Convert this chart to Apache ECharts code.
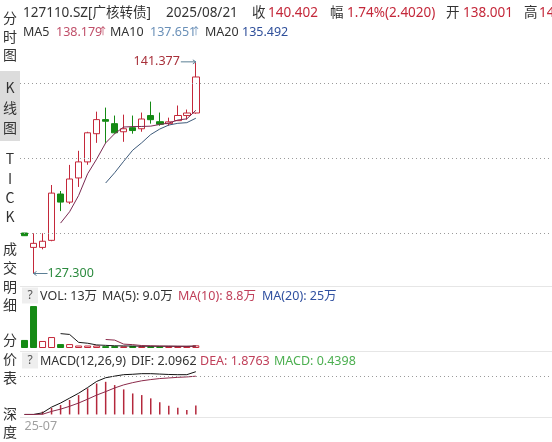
<!DOCTYPE html>
<html>
<head>
<meta charset="utf-8">
<script src="https://cdn.jsdelivr.net/npm/echarts@6/dist/echarts.min.js"></script>
<style>
html,body{margin:0;padding:0;background:#fff;}
#chart{width:552px;height:442px;}
</style>
</head>
<body>
<div id="chart"></div>
<script>
// 127110.SZ 广核转债 daily K-line since listing
const bondCode = '127110.SZ';
const bondName = '广核转债';
const dates = ['2025-07-25','2025-07-28','2025-07-29','2025-07-30','2025-07-31','2025-08-01','2025-08-04','2025-08-05','2025-08-06','2025-08-07','2025-08-08','2025-08-11','2025-08-12','2025-08-13','2025-08-14','2025-08-15','2025-08-18','2025-08-19','2025-08-20','2025-08-21'];
const opens  = [130.00,129.04,129.04,129.51,132.60,132.06,133.67,134.74,136.62,137.56,137.29,136.75,137.02,136.95,137.83,137.42,137.29,137.49,137.83,138.001];
const closes = [129.82,129.31,129.45,132.66,132.06,133.60,134.74,136.68,137.56,137.45,136.68,136.95,136.83,137.60,137.555,137.25,137.41,137.833,138.000,140.402];
const lows   = [129.80,127.30,128.91,129.45,131.46,131.93,133.07,134.55,136.01,136.01,136.62,136.08,136.62,136.75,137.29,137.15,137.15,137.49,137.56,137.95];
const highs  = [130.00,129.98,129.98,133.20,132.80,134.54,135.48,136.75,138.09,138.36,137.83,137.89,137.83,138.03,138.76,138.03,137.69,138.50,138.23,141.377];
// volume in 万张
const volumes = [39,203,34,53,19,19,12,12,12,9,9,8,10,8,8,8,8,8,8,13];
// MACD(12,26,9)
const difValues  = [0,0,0.08,0.36,0.56,0.80,1.04,1.32,1.62,1.80,1.88,1.95,1.97,2.00,2.00,1.98,1.96,1.95,1.95,2.0962];
const deaValues  = [0,0,0.01,0.15,0.26,0.40,0.56,0.75,0.95,1.12,1.30,1.45,1.56,1.65,1.71,1.76,1.79,1.82,1.84,1.8763];
const macdValues = [0,0,0.14,0.32,0.46,0.71,0.95,1.28,1.52,1.60,1.44,1.23,1.03,0.95,0.79,0.60,0.43,0.33,0.22,0.4398];
// axis tick labels and reference levels
const monthLabels = {'2025-07-25': '25-07'};
const priceLevels = [130, 135, 140];
const macdLevels = [1.87];
const sideTabs = [['分','时','图'], ['K','线','图'], ['T','I','C','K'], ['成','交','明','细'], ['分','价','表'], ['深','度']];

const FONT = '"Noto Sans", "Noto Sans CJK SC", sans-serif';
const FS = '12.5px ';
const HEAD_FS = '13.5px ';
const RED = '#c4283a';
const GREEN = '#148a14';
const TEXT = '#333';
const SLOTS = 59;

function movingAverage(arr, n) {
  return arr.map((_, i) => {
    if (i < n - 1) return '-';
    let s = 0;
    for (let k = i - n + 1; k <= i; k++) s += arr[k];
    return s / n;
  });
}

const ma5 = movingAverage(closes, 5);
const ma10 = movingAverage(closes, 10);
const ma20 = movingAverage(closes, 20);
const vma5 = movingAverage(volumes, 5);
const vma10 = movingAverage(volumes, 10);
const vma20 = movingAverage(volumes, 20);

const last = dates.length - 1;
const candleData = dates.map((d, i) => [opens[i], closes[i], lows[i], highs[i]]);
const volData = volumes.map((v, i) => {
  const ref = i === 0 ? opens[0] : closes[i - 1];
  const up = closes[i] >= ref;
  return {
    value: v,
    itemStyle: up ? { color: '#fff', borderColor: RED, borderWidth: 1 } : { color: GREEN, borderColor: GREEN, borderWidth: 1 }
  };
});

function fmtVol(v) { return (v >= 10 ? Math.round(v) : v.toFixed(1)) + '万'; }

const chart = echarts.init(document.getElementById('chart'), null, { renderer: 'canvas' });

const xAxisBase = {
  type: 'category', data: dates, boundaryGap: true, max: SLOTS - 1,
  axisLine: { show: false }, axisTick: { show: false }, splitLine: { show: false },
  axisLabel: { show: false }
};

chart.setOption({
  animation: false,
  backgroundColor: '#fff',
  grid: [
    { left: 20, right: 0, top: 38, height: 247.5 },
    { left: 20, right: 0, top: 298.4, height: 49.6 },
    { left: 20, right: 0, top: 365.5, height: 51 }
  ],
  xAxis: [
    Object.assign({}, xAxisBase, { gridIndex: 0 }),
    Object.assign({}, xAxisBase, { gridIndex: 1 }),
    Object.assign({}, xAxisBase, {
      gridIndex: 2,
      axisLabel: {
        show: true, interval: 0, align: 'left', margin: 4,
        color: '#a0a0a0', fontFamily: FONT, fontSize: 12.5,
        formatter: v => monthLabels[v] || ''
      }
    })
  ],
  yAxis: [
    { gridIndex: 0, type: 'value', min: 126.5, max: 143, show: false, splitLine: { show: false } },
    { gridIndex: 1, type: 'value', min: 0, max: 240, show: false, splitLine: { show: false } },
    { gridIndex: 2, type: 'value', min: -0.1, max: 2.4, show: false, splitLine: { show: false } }
  ],
  series: [
    {
      name: 'K', type: 'candlestick', xAxisIndex: 0, yAxisIndex: 0,
      data: candleData, barWidth: 7,
      itemStyle: { color: '#fff', color0: GREEN, borderColor: RED, borderColor0: GREEN, borderWidth: 1 },
      markLine: {
        silent: true, symbol: ['none', 'none'], label: { show: false },
        lineStyle: { type: [1, 3], color: '#9a9a9a', width: 1 },
        data: priceLevels.map(v => ({ yAxis: v }))
      }
    },
    { name: 'MA5', type: 'line', xAxisIndex: 0, yAxisIndex: 0, data: ma5, showSymbol: false, lineStyle: { color: '#7a2a52', width: 1 } },
    { name: 'MA10', type: 'line', xAxisIndex: 0, yAxisIndex: 0, data: ma10, showSymbol: false, lineStyle: { color: '#3d5a7a', width: 1 } },
    { name: 'MA20', type: 'line', xAxisIndex: 0, yAxisIndex: 0, data: ma20, showSymbol: false, lineStyle: { color: '#2f4f9a', width: 1 } },
    { name: 'VOL', type: 'bar', xAxisIndex: 1, yAxisIndex: 1, data: volData, barWidth: 7 },
    { name: 'VMA5', type: 'line', xAxisIndex: 1, yAxisIndex: 1, data: vma5, showSymbol: false, lineStyle: { color: '#1a1a1a', width: 1 } },
    { name: 'VMA10', type: 'line', xAxisIndex: 1, yAxisIndex: 1, data: vma10, showSymbol: false, lineStyle: { color: '#8b2a4a', width: 1 } },
    { name: 'VMA20', type: 'line', xAxisIndex: 1, yAxisIndex: 1, data: vma20, showSymbol: false, lineStyle: { color: '#2f4f9a', width: 1 } },
    { name: 'MACD', type: 'bar', xAxisIndex: 2, yAxisIndex: 2, data: macdValues, barWidth: 1.5, itemStyle: { color: '#b4283c' } },
    {
      name: 'DIF', type: 'line', xAxisIndex: 2, yAxisIndex: 2, data: difValues, showSymbol: false, lineStyle: { color: '#111', width: 1 },
      markLine: {
        silent: true, symbol: ['none', 'none'], label: { show: false },
        lineStyle: { type: [1, 3], color: '#9a9a9a', width: 1 },
        data: macdLevels.map(v => ({ yAxis: v }))
      }
    },
    { name: 'DEA', type: 'line', xAxisIndex: 2, yAxisIndex: 2, data: deaValues, showSymbol: false, lineStyle: { color: '#8b2a4a', width: 1 } }
  ]
});

// ---- overlay texts: header, indicator rows, sidebar, extreme markers ----
function txt(x, y, text, color, opts) {
  return Object.assign({
    type: 'text', x: x, y: y, silent: true, z: 10,
    style: Object.assign({ text: text, fill: color || TEXT, font: FS + FONT, verticalAlign: 'middle', align: 'left' }, (opts && opts.style) || {})
  }, (opts && opts.el) || {});
}
function head(x, text, color) {
  return txt(x, 13, text, color, { style: { font: HEAD_FS + FONT } });
}

const g = [];
const close = closes[last];
const prev = closes[last - 1];
const chg = close - prev;

// header row
g.push(head(23, bondCode + '[' + bondName + ']'));
g.push(head(166, dates[last].replace(/-/g, '/')));
g.push(head(252, '收'));
g.push(head(268, close.toFixed(3), RED));
g.push(head(330, '幅'));
g.push(head(347, (chg / prev * 100).toFixed(2) + '%(' + chg.toFixed(4) + ')', RED));
g.push(head(446, '开'));
g.push(head(463, opens[last].toFixed(3), RED));
g.push(head(524, '高'));
g.push(head(539, highs[last].toFixed(3), RED));

// MA row
g.push(txt(23, 32, 'MA5'));
g.push(txt(56, 32, ma5[last].toFixed(3), '#c0506a'));
g.push(txt(98, 32, '↑', '#c0506a', { style: { font: '10px ' + FONT } }));
g.push(txt(110, 32, 'MA10'));
g.push(txt(150, 32, ma10[last].toFixed(3), '#6a90b8'));
g.push(txt(191, 32, '↑', '#6a90b8', { style: { font: '10px ' + FONT } }));
g.push(txt(205, 32, 'MA20'));
g.push(txt(242, 32, ma20[last].toFixed(3), '#2f4f9a'));

// panel separators
[286.5, 351.5, 417.5].forEach(y => g.push({
  type: 'line', silent: true, z: 1,
  shape: { x1: 20, y1: y, x2: 552, y2: y },
  style: { stroke: '#e6e6e6', lineWidth: 1 }
}));

// volume row
g.push({ type: 'rect', silent: true, z: 5, shape: { x: 22, y: 287.5, width: 16, height: 16 }, style: { fill: '#eeeeee' } });
g.push(txt(30, 296, '?', '#555', { style: { align: 'center', font: '12px ' + FONT } }));
g.push(txt(40, 296, 'VOL: ' + fmtVol(volumes[last])));
g.push(txt(102, 296, 'MA(5): ' + fmtVol(vma5[last])));
g.push(txt(178, 296, 'MA(10): ' + fmtVol(vma10[last]), '#c0405a'));
g.push(txt(262, 296, 'MA(20): ' + fmtVol(vma20[last]), '#3050a0'));

// MACD row
g.push({ type: 'rect', silent: true, z: 5, shape: { x: 22, y: 352.5, width: 16, height: 16 }, style: { fill: '#eeeeee' } });
g.push(txt(30, 361, '?', '#555', { style: { align: 'center', font: '12px ' + FONT } }));
g.push(txt(40, 361, 'MACD(12,26,9)'));
g.push(txt(131, 361, 'DIF: ' + difValues[last].toFixed(4)));
g.push(txt(200, 361, 'DEA: ' + deaValues[last].toFixed(4), '#c0405a'));
g.push(txt(274, 361, 'MACD: ' + macdValues[last].toFixed(4), '#4caf50'));

// sidebar tabs
g.push({ type: 'rect', silent: true, z: 2, shape: { x: 0, y: 71, width: 20, height: 70 }, style: { fill: '#dcdcdc' } });
const tabTops = [18, 88, 159, 249, 340, 414];
const tabSteps = [18.5, 20, 19.3, 18.7, 19, 18];
sideTabs.forEach((chars, t) => {
  chars.forEach((c, k) => {
    g.push(txt(10, tabTops[t] + k * tabSteps[t], c, TEXT, { style: { align: 'center', font: '14px "Noto Sans CJK SC", sans-serif' } }));
  });
});

// high / low markers, positioned through the price axes
let hiIdx = 0, loIdx = 0;
highs.forEach((v, i) => { if (v > highs[hiIdx]) hiIdx = i; });
lows.forEach((v, i) => { if (v < lows[loIdx]) loIdx = i; });
const hp = chart.convertToPixel({ gridIndex: 0 }, [hiIdx, highs[hiIdx]]);
const lp = chart.convertToPixel({ gridIndex: 0 }, [loIdx, lows[loIdx]]);
const arrowColor = '#5b7f95';
g.push({ type: 'line', silent: true, z: 9, shape: { x1: hp[0] - 15, y1: hp[1] - 0.5, x2: hp[0], y2: hp[1] - 0.5 }, style: { stroke: arrowColor, lineWidth: 1 } });
g.push({ type: 'polyline', silent: true, z: 9, shape: { points: [[hp[0] - 3, hp[1] - 2.5], [hp[0], hp[1] - 0.5], [hp[0] - 3, hp[1] + 1.5]] }, style: { stroke: arrowColor, lineWidth: 1, fill: null } });
g.push(txt(hp[0] - 16, hp[1] - 0.5, highs[hiIdx].toFixed(3), '#a8303a', { style: { align: 'right' } }));
g.push({ type: 'line', silent: true, z: 9, shape: { x1: lp[0], y1: lp[1], x2: lp[0] + 14, y2: lp[1] }, style: { stroke: arrowColor, lineWidth: 1 } });
g.push({ type: 'polyline', silent: true, z: 9, shape: { points: [[lp[0] + 3, lp[1] - 2], [lp[0], lp[1]], [lp[0] + 3, lp[1] + 2]] }, style: { stroke: arrowColor, lineWidth: 1, fill: null } });
g.push(txt(lp[0] + 14, lp[1], lows[loIdx].toFixed(3), '#2b8a3e'));

chart.setOption({ graphic: g });
</script>
</body>
</html>
